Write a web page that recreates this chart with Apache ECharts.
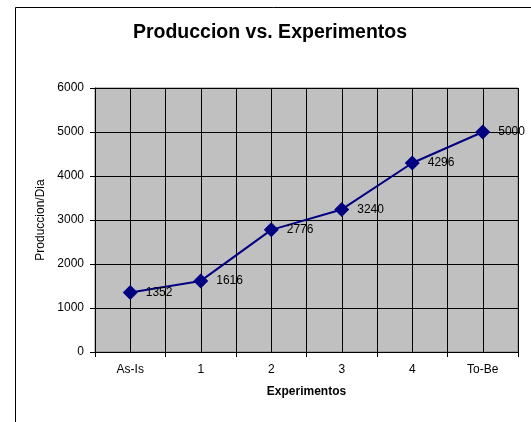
<!DOCTYPE html>
<html>
<head>
<meta charset="utf-8">
<script src="https://cdn.jsdelivr.net/npm/echarts@6/dist/echarts.min.js"></script>
<style>html,body{margin:0;padding:0;background:#fff;}#c{width:531px;height:422px;}</style>
</head>
<body>
<div id="c"></div>
<script>
var categories = ['As-Is', '1', '2', '3', '4', 'To-Be'];
var produccion = [1352, 1616, 2776, 3240, 4296, 5000];
var halfSteps = ['a','b','c','d','e','f','g','h','i','j','k','l'];

var chart = echarts.init(document.getElementById('c'), null, {renderer: 'canvas'});
var font = 'Arial, "Liberation Sans", sans-serif';
chart.setOption({
  animation: false,
  backgroundColor: '#ffffff',
  title: {
    text: 'Produccion vs. Experimentos',
    left: 265, top: 18, textAlign: 'center',
    textStyle: {fontFamily: font, fontSize: 19.5, fontWeight: 'bold', color: '#000'}
  },
  graphic: [{
    type: 'rect', left: 13, top: 5,
    shape: {width: 540, height: 440},
    style: {fill: 'none', stroke: '#000', lineWidth: 1},
    silent: true, z: -1
  }],
  grid: {
    left: 95, right: 13, top: 88, bottom: 70,
    show: true, backgroundColor: '#C0C0C0', borderColor: '#808080', borderWidth: 1
  },
  xAxis: [{
    type: 'category', data: categories, boundaryGap: true,
    name: 'Experimentos', nameLocation: 'middle', nameGap: 34,
    nameTextStyle: {fontFamily: font, fontSize: 12, fontWeight: 'bold', color: '#000'},
    axisLine: {lineStyle: {color: '#000', width: 1}},
    axisTick: {show: true, length: 5, inside: false, lineStyle: {color: '#000'}},
    axisLabel: {fontFamily: font, fontSize: 12, color: '#000', margin: 12},
    splitLine: {show: false}
  }, {
    type: 'category', data: halfSteps, boundaryGap: true, position: 'bottom',
    axisLine: {show: false}, axisTick: {show: false}, axisLabel: {show: false},
    splitLine: {show: true, interval: 0, lineStyle: {color: '#000', width: 1}}
  }],
  yAxis: {
    type: 'value', min: 0, max: 6000, interval: 1000,
    name: 'Produccion/Dia', nameLocation: 'middle', nameGap: 46,
    nameTextStyle: {fontFamily: font, fontSize: 12, color: '#000'},
    axisLine: {show: true, lineStyle: {color: '#000', width: 1}},
    axisTick: {show: true, length: 5, lineStyle: {color: '#000'}},
    axisLabel: {fontFamily: font, fontSize: 12, color: '#000', margin: 11,
      formatter: function (v) { return String(v); }},
    splitLine: {show: true, lineStyle: {color: '#000', width: 1}}
  },
  series: [{
    type: 'line', data: produccion, xAxisIndex: 0,
    symbol: 'diamond', symbolSize: 15,
    lineStyle: {color: '#000080', width: 2},
    itemStyle: {color: '#000080'},
    label: {show: true, position: 'right', distance: 8,
      fontFamily: font, fontSize: 12, color: '#000'},
    z: 5
  }]
});
</script>
</body>
</html>
